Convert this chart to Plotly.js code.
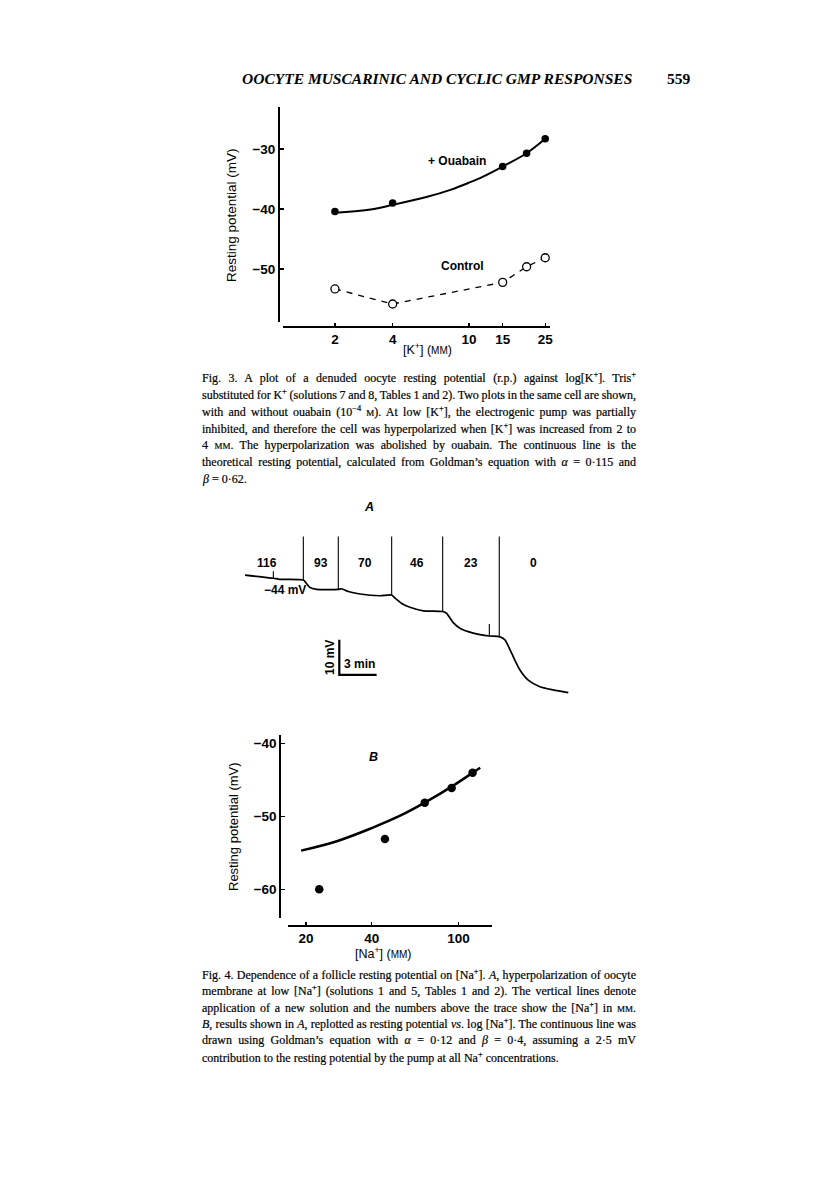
<!DOCTYPE html>
<html><head><meta charset="utf-8">
<script src="https://cdn.plot.ly/plotly-3.0.1.min.js"></script>
<style>html,body{margin:0;padding:0;background:#fff}</style>
</head><body><div id="chart" style="width:816px;height:1181px"></div>
<script>
// ---------- Fig. 3 data ----------
const kConc = [2, 4, 15, 20, 25];
const rpOuabain = [-40.4, -39.0, -32.9, -30.7, -28.3];
const rpControl = [-53.3, -55.8, -52.2, -49.6, -48.1];
const kCurve = [2, 3, 4, 6, 8, 10, 12, 15, 20, 25];
const rpCurveOuabain = [-40.6, -40.1, -39.3, -38.0, -36.8, -35.6, -34.5, -32.9, -30.7, -28.3];
const kTicks = [2, 4, 10, 15, 25];
const rpTicks3 = [-30, -40, -50];

// ---------- Fig. 4A data (time in min, potential in mV) ----------
const traceTime = [0, 2.28, 2.8, 4.69, 4.9, 5.2, 5.76, 7.5, 7.77, 8.3, 9.24, 10.85, 11.79, 12.06, 12.6, 13.26, 14.33, 15.89, 16.2, 16.74, 17.28, 18.35, 19.64, 20.44, 20.9, 21.44, 22.1, 22.77, 23.71, 24.78, 25.99];
const traceMV = [-42.6, -43.5, -43.8, -44.0, -44.8, -46.1, -46.7, -46.7, -46.5, -47.3, -48.0, -48.5, -48.3, -49.2, -50.7, -51.8, -52.8, -53.0, -53.5, -56.2, -57.8, -59.2, -60.0, -60.2, -61.1, -65.0, -69.7, -72.6, -74.5, -75.4, -76.2];
const naSolutionLabels = ['116', '93', '70', '46', '23', '0'];
const changeTimes = [4.69, 7.5, 11.79, 15.89, 20.44];
const eventTimes = [2.28, 19.64];
const scaleBarMV = 10;
const scaleBarMin = 3;

// ---------- Fig. 4B data ----------
const naConc = [23, 46, 70, 93, 116];
const rpNa = [-60.0, -53.1, -48.1, -46.1, -44.0];
const naCurve = [19, 27.7, 40, 54, 70, 93, 116, 125.7];
const rpCurveNa = [-54.7, -53.4, -51.6, -49.9, -48.1, -45.9, -44.0, -43.3];
const naTicks = [20, 40, 100];
const rpTicks4 = [-40, -50, -60];

// ---------- text ----------
const headerText = 'OOCYTE MUSCARINIC AND CYCLIC GMP RESPONSES';
const pageNumber = '559';
const sc = s => "<span style='font-size:9px'>" + s + "</span>";
const fig3Caption = [
  "Fig. 3. A plot of a denuded oocyte resting potential (r.p.) against log[K<sup>+</sup>]. Tris<sup>+</sup>",
  "substituted for K<sup>+</sup> (solutions 7 and 8, Tables 1 and 2). Two plots in the same cell are shown,",
  "with and without ouabain (10<sup>\u22124</sup> " + sc('M') + "). At low [K<sup>+</sup>], the electrogenic pump was partially",
  "inhibited, and therefore the cell was hyperpolarized when [K<sup>+</sup>] was increased from 2 to",
  "4 " + sc('MM') + ". The hyperpolarization was abolished by ouabain. The continuous line is the",
  "theoretical resting potential, calculated from Goldman\u2019s equation with <i>\u03b1</i> = 0\u00b7115 and",
  "<i>\u03b2</i> = 0\u00b762."
];
const fig4Caption = [
  "Fig. 4. Dependence of a follicle resting potential on [Na<sup>+</sup>]. <i>A</i>, hyperpolarization of oocyte",
  "membrane at low [Na<sup>+</sup>] (solutions 1 and 5, Tables 1 and 2). The vertical lines denote",
  "application of a new solution and the numbers above the trace show the [Na<sup>+</sup>] in " + sc('MM') + ".",
  "<i>B</i>, results shown in <i>A</i>, replotted as resting potential <i>vs</i>. log [Na<sup>+</sup>]. The continuous line was",
  "drawn using Goldman\u2019s equation with <i>\u03b1</i> = 0\u00b712 and <i>\u03b2</i> = 0\u00b74, assuming a 2\u00b75 mV",
  "contribution to the resting potential by the pump at all Na<sup>+</sup> concentrations."
];

// ---------- layout helpers ----------
const W = 816, H = 1181;
const PX = v => v / W;
const PY = v => 1 - v / H;
const INK = '#000';
const SANS = 'Liberation Sans, Arial, sans-serif';
const SERIF = 'Liberation Serif, Times New Roman, serif';
const minus = v => (v < 0 ? '\u2212' : '') + Math.abs(v);

function traceAt(t) {
  for (let i = 0; i < traceTime.length - 1; i++) {
    if (t >= traceTime[i] && t <= traceTime[i + 1]) {
      const f = (t - traceTime[i]) / (traceTime[i + 1] - traceTime[i]);
      return traceMV[i] + f * (traceMV[i + 1] - traceMV[i]);
    }
  }
  return traceMV[traceMV.length - 1];
}

const axisCommon = {
  showline: true, linecolor: INK, linewidth: 1.6,
  ticks: 'inside', ticklen: 4, tickwidth: 1.3, tickcolor: INK,
  showgrid: false, zeroline: false, fixedrange: true,
  tickfont: {family: SANS, size: 13.5, color: INK, weight: 'bold'}
};

// ---------- traces ----------
const traces = [];
// Fig 3
traces.push({x: kCurve, y: rpCurveOuabain, xaxis: 'x', yaxis: 'y', mode: 'lines', line: {color: INK, width: 2, shape: 'spline'}, hoverinfo: 'skip'});
traces.push({x: kConc, y: rpOuabain, xaxis: 'x', yaxis: 'y', mode: 'markers', marker: {color: INK, size: 7.5, symbol: 'circle'}});
traces.push({x: kConc, y: rpControl, xaxis: 'x', yaxis: 'y', mode: 'lines+markers',
  line: {color: INK, width: 1.3, dash: '6px,6px'},
  marker: {color: 'white', size: 8, symbol: 'circle', line: {color: INK, width: 1.3}}});

// Fig 4A trace
traces.push({x: traceTime, y: traceMV, xaxis: 'x2', yaxis: 'y2', mode: 'lines', line: {color: INK, width: 1.7, shape: 'spline', smoothing: 0.6}});
const markTopMV = -31.6;
const vx = [], vy = [];
changeTimes.forEach(t => { vx.push(t, t, null); vy.push(markTopMV, traceAt(t), null); });
traces.push({x: vx, y: vy, xaxis: 'x2', yaxis: 'y2', mode: 'lines', line: {color: INK, width: 1.1}});
const eventLen = [2, 3.4];
const ex = [], ey = [];
eventTimes.forEach((t, i) => { const b = traceAt(t); ex.push(t, t, null); ey.push(b + eventLen[i], b, null); });
traces.push({x: ex, y: ey, xaxis: 'x2', yaxis: 'y2', mode: 'lines', line: {color: INK, width: 1.1}});
// scale bar
const sbT = 7.58, sbTop = -61.1;
traces.push({x: [sbT, sbT, sbT + scaleBarMin], y: [sbTop, sbTop - scaleBarMV, sbTop - scaleBarMV],
  xaxis: 'x2', yaxis: 'y2', mode: 'lines', line: {color: INK, width: 2.2}});

// Fig 4B
traces.push({x: naCurve, y: rpCurveNa, xaxis: 'x3', yaxis: 'y3', mode: 'lines', line: {color: INK, width: 2.5, shape: 'spline'}});
traces.push({x: naConc, y: rpNa, xaxis: 'x3', yaxis: 'y3', mode: 'markers', marker: {color: INK, size: 8.5}});

// ---------- annotations ----------
const ann = [];
const txt = (text, x, y, opts) => Object.assign({text, x: PX(x), y: PY(y), xref: 'paper', yref: 'paper', showarrow: false,
  xanchor: 'center', yanchor: 'middle', font: {family: SANS, size: 12, color: INK}}, opts || {});
const LBL = {family: SANS, size: 12, color: INK, weight: 'bold'};

ann.push(txt(headerText, 437, 78, {font: {family: SERIF, size: 15.5, color: INK, style: 'italic', weight: 'bold'}}));
ann.push(txt(pageNumber, 679, 78, {font: {family: SERIF, size: 15.5, color: INK, weight: 'bold'}}));

// Fig 3 labels
ann.push(txt('+ Ouabain', 457, 161, {font: LBL}));
ann.push(txt('Control', 462, 266, {font: LBL}));
ann.push(txt('Resting potential (mV)', 232, 215, {textangle: -90, font: {family: SANS, size: 13.5, color: INK}}));
ann.push(txt('[K<sup>+</sup>] (' + "<span style='font-size:10px'>MM</span>" + ')', 427, 349, {font: {family: SANS, size: 12.5, color: INK}}));

// captions
const captionIdx = [];
const CAP = {family: SERIF, size: 12, color: INK};
fig3Caption.forEach((s, i) => {
  captionIdx.push({idx: ann.length, justify: i < fig3Caption.length - 1});
  ann.push(txt(s, 200, 377 + i * 17, {xanchor: 'left', align: 'left', font: CAP}));
});
fig4Caption.forEach((s, i) => {
  captionIdx.push({idx: ann.length, justify: i < fig4Caption.length - 1});
  ann.push(txt(s, 200, 974 + i * 16.6, {xanchor: 'left', align: 'left', font: CAP}));
});

// Fig 4A labels
ann.push(txt('<i>A</i>', 369, 507, {font: {family: SANS, size: 12.5, color: INK, weight: 'bold'}}));
const bounds = [-1.2].concat(changeTimes, [traceTime[traceTime.length - 1]]);
naSolutionLabels.forEach((s, i) => {
  ann.push({text: s, x: (bounds[i] + bounds[i + 1]) / 2, y: -39.06, xref: 'x2', yref: 'y2', showarrow: false,
    xanchor: 'center', yanchor: 'middle', font: LBL});
});
ann.push({text: '\u221244 mV', x: 3.22, y: -46.86, xref: 'x2', yref: 'y2', showarrow: false,
  xanchor: 'center', yanchor: 'middle', font: LBL});
ann.push(txt('10 mV', 330, 658, {textangle: -90, font: LBL}));
ann.push(txt('3 min', 359, 664, {font: LBL}));

// Fig 4B labels
ann.push(txt('<i>B</i>', 373, 757, {font: {family: SANS, size: 12.5, color: INK, weight: 'bold'}}));
ann.push(txt('Resting potential (mV)', 233, 827, {textangle: -90, font: {family: SANS, size: 13, color: INK}}));
ann.push(txt('[Na<sup>+</sup>] (' + "<span style='font-size:10px'>MM</span>" + ')', 383, 953, {font: {family: SANS, size: 12.5, color: INK}}));

// ---------- layout ----------
const layout = {
  width: W, height: H, margin: {l: 0, r: 0, t: 0, b: 0},
  paper_bgcolor: 'white', plot_bgcolor: 'rgba(0,0,0,0)', showlegend: false,
  xaxis: Object.assign({}, axisCommon, {type: 'log', domain: [PX(283), PX(550)], range: [0.030, 1.423],
    anchor: 'free', position: PY(326), tickvals: kTicks, ticktext: kTicks.map(String), ticklen: 3}),
  yaxis: Object.assign({}, axisCommon, {domain: [PY(322), PY(107)], range: [-58.8, -23],
    anchor: 'free', position: PX(278), tickvals: rpTicks3, ticktext: rpTicks3.map(minus)}),
  xaxis2: {domain: [PX(240), PX(580)], range: [-0.402, 26.93], visible: false, anchor: 'y2', fixedrange: true},
  yaxis2: {domain: [PY(700), PY(520)], range: [-78.29, -26.86], visible: false, anchor: 'x2', fixedrange: true},
  xaxis3: Object.assign({}, axisCommon, {type: 'log', domain: [PX(288.3), PX(491.7)], range: [1.220, 2.152],
    anchor: 'free', position: PY(925), tickvals: naTicks, ticktext: naTicks.map(String), ticklen: 3}),
  yaxis3: Object.assign({}, axisCommon, {domain: [PY(918.3), PY(735)], range: [-64.0, -38.8],
    anchor: 'free', position: PX(279.3), tickvals: rpTicks4, ticktext: rpTicks4.map(minus)}),
  annotations: ann
};

Plotly.newPlot('chart', traces, layout, {displayModeBar: false, staticPlot: true}).then(() => {
  // justify caption lines to the page measure (word spacing), slightly heavier ink like print
  const target = 434;
  captionIdx.forEach(c => {
    const t = document.querySelector('.annotation[data-index="' + c.idx + '"] text.annotation-text');
    if (!t) return;
    t.style.stroke = '#000';
    t.style.strokeWidth = '0.2px';
    if (!c.justify) return;
    const w = t.getComputedTextLength();
    const spaces = (t.textContent.match(/ /g) || []).length;
    if (spaces > 0) t.style.wordSpacing = ((target - w) / spaces).toFixed(3) + 'px';
  });
});
</script>
</body></html>
